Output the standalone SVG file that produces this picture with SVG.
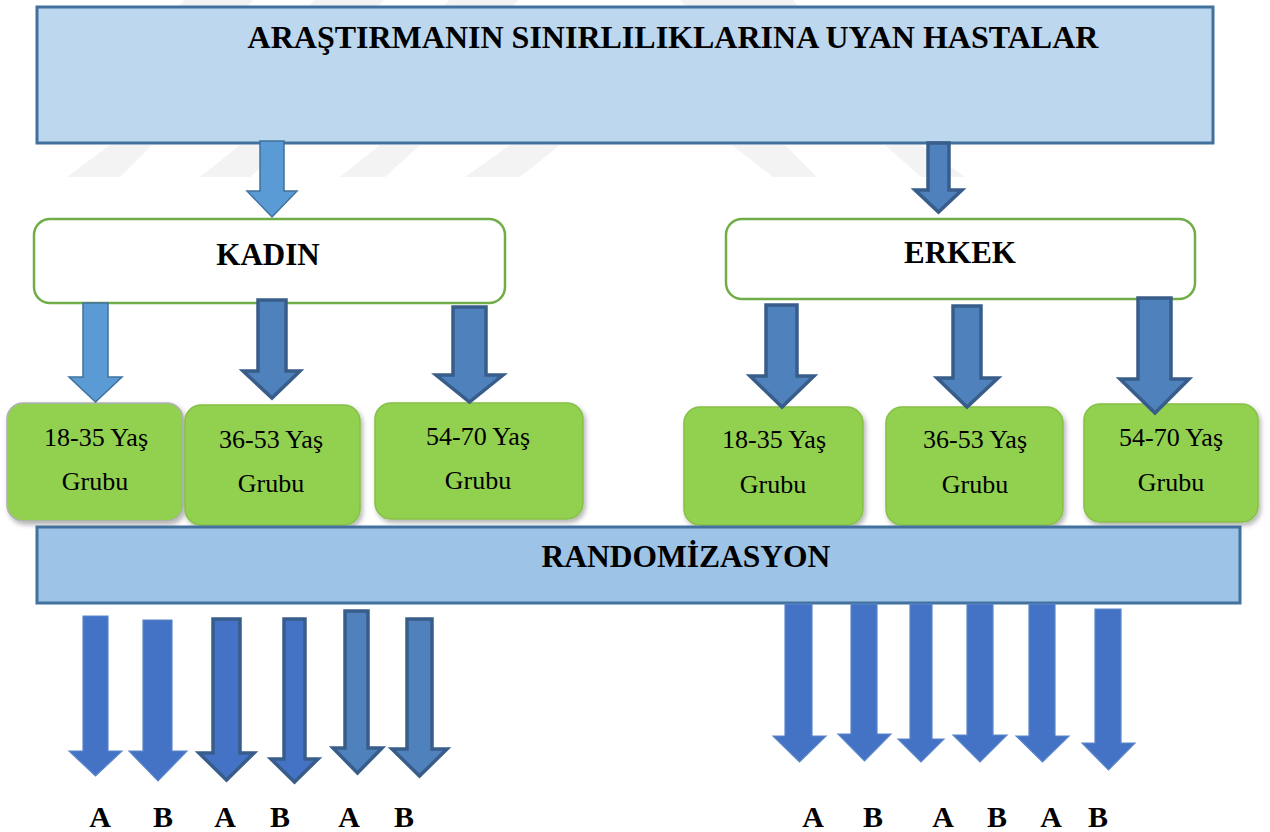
<svg xmlns="http://www.w3.org/2000/svg" width="1270" height="832" viewBox="0 0 1270 832">
<defs>
<style>
.wm{fill:#f3f3f3}
.bx{stroke:#41719c;stroke-width:3}
.g{fill:#92d050;stroke:#86c046;stroke-width:1.5;filter:url(#sh)}
.sex{fill:#ffffff;stroke:#70ad47;stroke-width:2.5}
.tb{font-family:'Liberation Serif','Times New Roman',Tinos,'DejaVu Serif',serif;font-weight:bold;fill:#000;text-anchor:middle}
.tr{font-family:'Liberation Serif','Times New Roman',Tinos,'DejaVu Serif',serif;font-size:26px;fill:#000;text-anchor:middle}
.light{fill:#5b9bd5;stroke:#41719c;stroke-width:1.5}
.dark{fill:#4f81bd;stroke:#385d8a;stroke-width:3.5}
.dark2{fill:#4472c4;stroke:#385d8a;stroke-width:3.5}
.solid{fill:#4472c4;stroke:#5b86c8;stroke-width:1.2}
</style>
<filter id="sh" x="-10%" y="-10%" width="125%" height="125%">
<feDropShadow dx="2" dy="3" stdDeviation="2.5" flood-color="#000" flood-opacity="0.3"/>
</filter>
</defs>
<g id="watermark">
<polygon class="wm" points="184,0 253,0 248,6 179,6"/>
<polygon class="wm" points="314,0 384,0 379,6 309,6"/>
<polygon class="wm" points="449,0 518,0 513,6 444,6"/>
<polygon class="wm" points="680,0 793,0 798,6 685,6"/>
<polygon class="wm" points="110,145 152,145 120,177 67,177"/>
<polygon class="wm" points="240,145 286,145 250,177 200,177"/>
<polygon class="wm" points="380,145 420,145 385,177 340,177"/>
<polygon class="wm" points="510,145 560,145 520,177 465,177"/>
<polygon class="wm" points="732,145 785,145 817,177 773,177"/>
<polygon class="wm" points="885,145 921,145 965,177 921,177"/>
</g>
<g id="top">
<rect class="bx" x="37" y="7" width="1176" height="136" fill="#bdd7ee"/>
<text class="tb" x="673" y="48" font-size="32">ARAŞTIRMANIN SINIRLILIKLARINA UYAN HASTALAR</text>
</g>
<g id="kadin">
<rect class="sex" x="34" y="219" width="471" height="84" rx="16"/>
<text class="tb" x="268" y="265" font-size="31">KADIN</text>
</g>
<g id="erkek">
<rect class="sex" x="726" y="219" width="469" height="80" rx="16"/>
<text class="tb" x="960" y="263" font-size="31">ERKEK</text>
</g>
<g id="k1835">
<rect class="g" x="7" y="403" width="176" height="118" rx="16" style="stroke:#b0b0b8"/>
<text class="tr" x="96" y="446">18-35 Yaş</text>
<text class="tr" x="95" y="490">Grubu</text>
</g>
<g id="k3653">
<rect class="g" x="185" y="405" width="175" height="120" rx="16"/>
<text class="tr" x="271" y="448">36-53 Yaş</text>
<text class="tr" x="271" y="492">Grubu</text>
</g>
<g id="k5470">
<rect class="g" x="375" y="403" width="208" height="116" rx="16"/>
<text class="tr" x="478" y="445">54-70 Yaş</text>
<text class="tr" x="478" y="489">Grubu</text>
</g>
<g id="e1835">
<rect class="g" x="684" y="407" width="179" height="118" rx="16"/>
<text class="tr" x="774" y="448">18-35 Yaş</text>
<text class="tr" x="773" y="493">Grubu</text>
</g>
<g id="e3653">
<rect class="g" x="886" y="407" width="177" height="118" rx="16"/>
<text class="tr" x="975" y="448">36-53 Yaş</text>
<text class="tr" x="975" y="493">Grubu</text>
</g>
<g id="e5470">
<rect class="g" x="1084" y="404" width="174" height="118" rx="16"/>
<text class="tr" x="1171" y="446">54-70 Yaş</text>
<text class="tr" x="1171" y="491">Grubu</text>
</g>
<g id="randomizasyon">
<rect class="bx" x="37" y="527" width="1203" height="76" fill="#9dc3e6"/>
<text class="tb" x="686" y="567" font-size="31.5">RANDOMİZASYON</text>
</g>
<g id="connectors">
<polygon class="light" points="260,141 284,141 284,191 297,191 272,217 247,191 260,191"/>
<polygon class="dark" points="928,143 949,143 949,190 962,190 938.5,212 915,190 928,190"/>
<polygon class="light" points="83,303 108,303 108,377 122,377 95.5,402 69,377 83,377"/>
<polygon class="dark" points="258,300 286,300 286,371 300,371 272,398 243,371 258,371"/>
<polygon class="dark" points="453,307 486,307 486,375 503,375 469.5,402 436,375 453,375"/>
<polygon class="dark" points="766,305 797,305 797,376 814,376 782,407 750,376 766,376"/>
<polygon class="dark" points="953,306 981,306 981,378 998,378 967,407 937,378 953,378"/>
<polygon class="dark" points="1138,298 1171,298 1171,379 1189,379 1155,413 1120,379 1138,379"/>
<polygon class="solid" points="83,616 108,616 108,751 122,751 95.5,776 69,751 83,751"/>
<polygon class="solid" points="143,620 172,620 172,751 187,751 158,781 129,751 143,751"/>
<polygon class="dark2" points="213,619 240,619 240,753 254,753 226.5,780 199,753 213,753"/>
<polygon class="dark2" points="284,619 305,619 305,759 318,759 294.5,782 271,759 284,759"/>
<polygon class="dark" points="345,611 368,611 368,748 382,748 357.5,773 333,748 345,748"/>
<polygon class="dark" points="407,619 432,619 432,749 447,749 419.5,776 392,749 407,749"/>
<polygon class="solid" points="785,604 812,604 812,736 826,736 799.5,762 773,736 785,736"/>
<polygon class="solid" points="851,604 877,604 877,734 891,734 864.5,761 838,734 851,734"/>
<polygon class="solid" points="910,604 932,604 932,739 944,739 921,762 898,739 910,739"/>
<polygon class="solid" points="967,604 993,604 993,735 1007,735 980,762 953,735 967,735"/>
<polygon class="solid" points="1029,604 1055,604 1055,736 1069,736 1042.5,762 1016,736 1029,736"/>
<polygon class="solid" points="1095,609 1121,609 1121,743 1135,743 1108.5,770 1082,743 1095,743"/>
</g>
<g id="labels">
<text class="tb" x="100" y="827" font-size="30">A</text>
<text class="tb" x="163" y="827" font-size="30">B</text>
<text class="tb" x="225" y="827" font-size="30">A</text>
<text class="tb" x="280" y="827" font-size="30">B</text>
<text class="tb" x="349" y="827" font-size="30">A</text>
<text class="tb" x="404" y="827" font-size="30">B</text>
<text class="tb" x="813" y="827" font-size="30">A</text>
<text class="tb" x="873" y="827" font-size="30">B</text>
<text class="tb" x="943" y="827" font-size="30">A</text>
<text class="tb" x="997" y="827" font-size="30">B</text>
<text class="tb" x="1051" y="827" font-size="30">A</text>
<text class="tb" x="1098" y="827" font-size="30">B</text>
</g>
</svg>
